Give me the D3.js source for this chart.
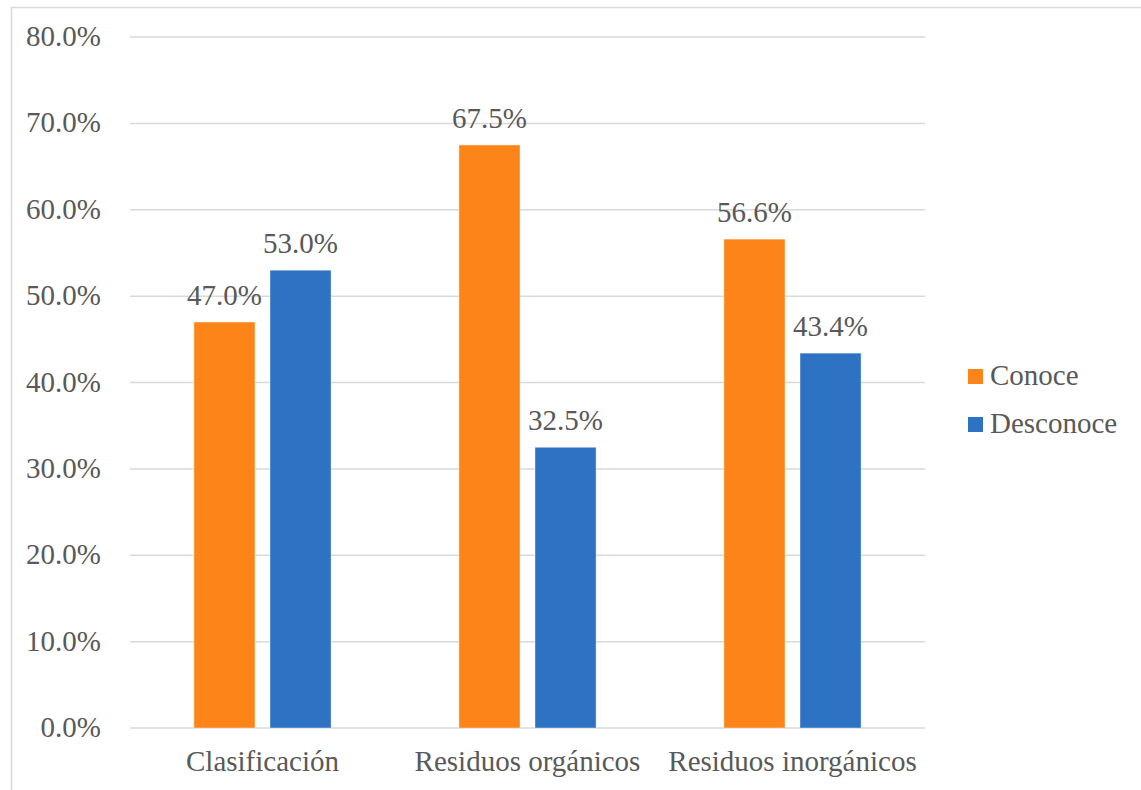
<!DOCTYPE html>
<html lang="es">
<head>
<meta charset="utf-8">
<title></title>
<script src="https://cdn.jsdelivr.net/npm/d3@7"></script>
<style>
  body { margin: 0; background: #fff; }
  text { font-family: "Liberation Serif", "Times New Roman", "DejaVu Serif", serif; fill: #595959; }
</style>
</head>
<body>
<svg width="1141" height="790"></svg>
<script>
var categories = ['Clasificación', 'Residuos orgánicos', 'Residuos inorgánicos'];
var seriesNames = ['Conoce', 'Desconoce'];
var conoce = [47.0, 67.5, 56.6];
var desconoce = [53.0, 32.5, 43.4];
var yTicks = [0, 10, 20, 30, 40, 50, 60, 70, 80];
var colors = ['#FD8418', '#2E72C4'];

var svg = d3.select('svg');
var plotLeft = 130, plotRight = 925, plotTop = 37, plotBottom = 728;
var fontSize = '29px';

// chart frame (only top/left edges fall inside the picture)
svg.append('rect')
    .attr('x', 11.5).attr('y', 7.5)
    .attr('width', 1200).attr('height', 900)
    .style('fill', 'none').style('stroke', '#d9d9d9').style('stroke-width', 1.5);

var x = d3.scaleBand().domain(categories).range([plotLeft, plotRight]);
var inner = d3.scaleBand().domain(seriesNames).range([0, x.bandwidth()])
    .paddingInner(0.197).paddingOuter(0.84);
var y = d3.scaleLinear().domain([0, 80]).range([plotBottom, plotTop]);

svg.append('g').selectAll('line')
    .data(yTicks)
    .enter()
    .append('line')
    .attr('x1', plotLeft).attr('x2', plotRight)
    .attr('y1', d => y(d)).attr('y2', d => y(d))
    .style('stroke', '#d9d9d9').style('stroke-width', 1.5);

svg.append('g').selectAll('text')
    .data(yTicks)
    .enter()
    .append('text')
    .attr('x', 101)
    .attr('y', d => y(d) + 9)
    .attr('text-anchor', 'end')
    .style('font-size', fontSize)
    .text(d => d.toFixed(1) + '%');

svg.append('g').selectAll('text')
    .data(categories)
    .enter()
    .append('text')
    .attr('x', d => x(d) + x.bandwidth() / 2)
    .attr('y', 771)
    .attr('text-anchor', 'middle')
    .style('font-size', fontSize)
    .text(d => d);

var rows = [];
categories.forEach(function(c, i){
    rows.push({cat: c, s: 'Conoce', v: conoce[i], k: 0});
    rows.push({cat: c, s: 'Desconoce', v: desconoce[i], k: 1});
});

svg.append('g').selectAll('rect')
    .data(rows)
    .enter()
    .append('rect')
    .attr('x', d => x(d.cat) + inner(d.s))
    .attr('width', inner.bandwidth())
    .attr('y', d => y(d.v))
    .attr('height', d => y(0) - y(d.v))
    .style('fill', d => colors[d.k])
    .style('stroke', '#fff').style('stroke-opacity', 0.4).style('stroke-width', 1);

svg.append('g').selectAll('text')
    .data(rows)
    .enter()
    .append('text')
    .attr('x', d => x(d.cat) + inner(d.s) + inner.bandwidth() / 2)
    .attr('y', d => y(d.v) - 17)
    .attr('text-anchor', 'middle')
    .style('font-size', fontSize)
    .text(d => d.v.toFixed(1) + '%');

var legend = svg.append('g').selectAll('g')
    .data(seriesNames)
    .enter()
    .append('g')
    .attr('transform', (d, i) => 'translate(968,' + (369 + i * 48) + ')');
legend.append('rect')
    .attr('width', 15).attr('height', 15)
    .style('fill', (d, i) => colors[i]);
legend.append('text')
    .attr('x', 22).attr('y', 16)
    .style('font-size', fontSize)
    .text(d => d);
</script>
</body>
</html>
